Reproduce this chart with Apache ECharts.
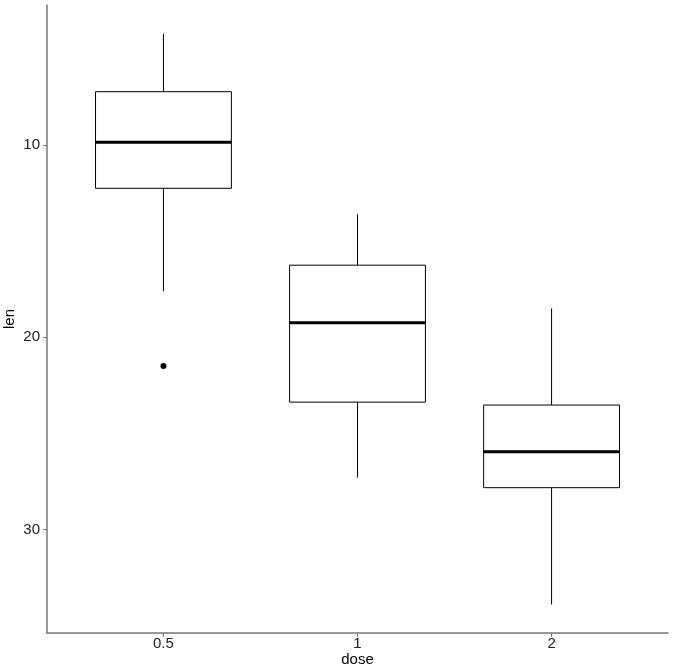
<!DOCTYPE html>
<html><head><meta charset="utf-8">
<script src="https://cdn.jsdelivr.net/npm/echarts@6/dist/echarts.min.js"></script>
<style>html,body{margin:0;padding:0;background:#fff}#c{width:680px;height:672px}</style>
</head><body><div id="c"></div>
<script>
var categories = ['0.5', '1', '2'];
var lowerWhisker = [4.2, 13.6, 18.5];
var q1 = [7.225, 16.25, 23.525];
var median = [9.85, 19.25, 25.95];
var q3 = [12.25, 23.375, 27.825];
var upperWhisker = [17.6, 27.3, 33.9];
var outliers = [[0, 21.5]];
var yTicks = [10, 20, 30];

var boxData = categories.map(function (c, i) {
  return [i + 1, lowerWhisker[i], q1[i], median[i], q3[i], upperWhisker[i]];
});
var outlierData = outliers.map(function (o) { return [o[0] + 1, o[1]]; });

var chart = echarts.init(document.getElementById('c'));
var fontFamily = 'Liberation Sans, Arial, sans-serif';
chart.setOption({
  animation: false,
  grid: { left: 47, right: 12, top: 5, bottom: 39, containLabel: false, outerBoundsMode: 'none' },
  xAxis: {
    type: 'value', min: 0.4, max: 3.6,
    name: 'dose', nameLocation: 'middle', nameGap: 19, nameMoveOverlap: false,
    nameTextStyle: { fontSize: 15, color: '#000', fontFamily: fontFamily },
    splitLine: { show: false },
    axisLine: { show: true, lineStyle: { color: '#777', width: 1.5 } },
    axisTick: { show: true, length: 4, lineStyle: { color: '#777' }, customValues: [1, 2, 3] },
    axisLabel: { fontSize: 15, color: '#222', fontFamily: fontFamily, margin: 3,
      customValues: [1, 2, 3],
      formatter: function (v) { return categories[Math.round(v) - 1] || ''; } }
  },
  yAxis: {
    type: 'value', inverse: true, min: 2.715, max: 35.385,
    name: 'len', nameLocation: 'middle', nameGap: 30, nameRotate: 90, nameMoveOverlap: false,
    nameTextStyle: { fontSize: 15, color: '#000', fontFamily: fontFamily },
    splitLine: { show: false },
    axisLine: { show: true, lineStyle: { color: '#777', width: 1.5 } },
    axisTick: { show: true, length: 4, lineStyle: { color: '#777' }, customValues: yTicks },
    axisLabel: { fontSize: 15, color: '#222', fontFamily: fontFamily, margin: 7, customValues: yTicks }
  },
  series: [{
    type: 'custom',
    data: boxData,
    renderItem: function (params, api) {
      var x = api.value(0);
      var hw = 0.35;
      var pMin = api.coord([x, api.value(1)]);
      var pQ1 = api.coord([x, api.value(2)]);
      var pMed = api.coord([x, api.value(3)]);
      var pQ3 = api.coord([x, api.value(4)]);
      var pMax = api.coord([x, api.value(5)]);
      var left = api.coord([x - hw, api.value(3)])[0];
      var right = api.coord([x + hw, api.value(3)])[0];
      return {
        type: 'group',
        children: [
          { type: 'line', shape: { x1: pMin[0], y1: pMin[1], x2: pQ1[0], y2: pQ1[1] }, style: { stroke: '#000', lineWidth: 1 } },
          { type: 'line', shape: { x1: pQ3[0], y1: pQ3[1], x2: pMax[0], y2: pMax[1] }, style: { stroke: '#000', lineWidth: 1 } },
          { type: 'rect', shape: { x: left, y: Math.min(pQ1[1], pQ3[1]), width: right - left, height: Math.abs(pQ3[1] - pQ1[1]) }, style: { fill: '#fff', stroke: '#000', lineWidth: 1 } },
          { type: 'line', shape: { x1: left, y1: pMed[1], x2: right, y2: pMed[1] }, style: { stroke: '#000', lineWidth: 3 } }
        ]
      };
    }
  }, {
    type: 'scatter',
    data: outlierData,
    symbolSize: 6,
    itemStyle: { color: '#000', opacity: 1 }
  }]
});
</script></body></html>
